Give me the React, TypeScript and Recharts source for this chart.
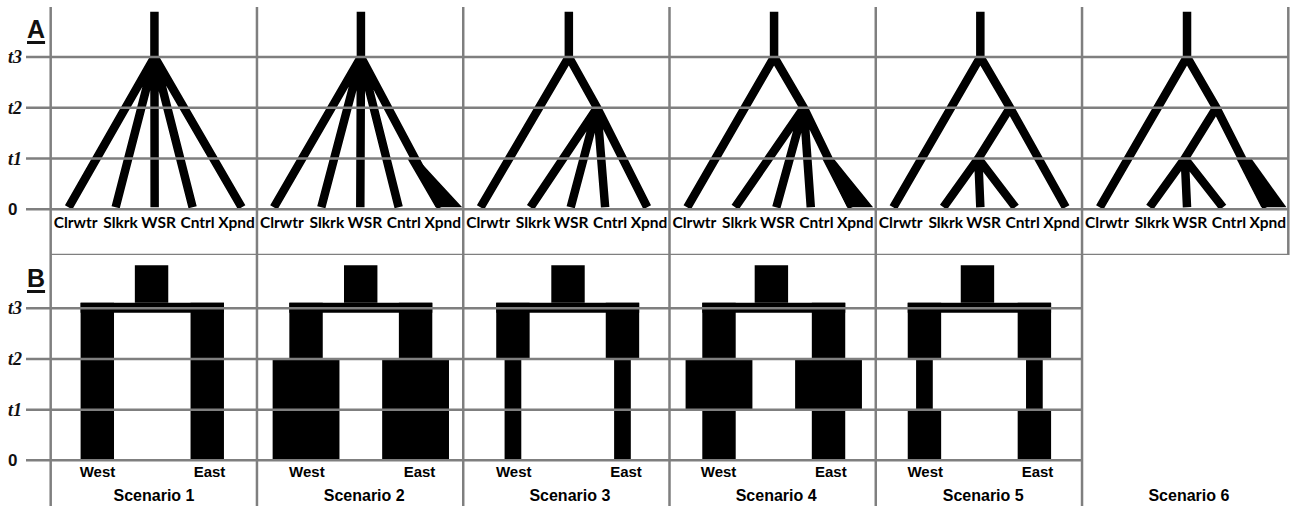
import React from 'react';
import { ComposedChart, Line, Area, XAxis, YAxis, ReferenceLine, ReferenceArea, Scatter } from 'recharts';

// ---------- shared ----------
const PANEL = 100; // each scenario panel = 100 x-units
const X_DOMAIN: [number, number] = [-11.97, 600];
const TOP_T_DOMAIN: [number, number] = [-0.9, 3.985];
const BOT_T_DOMAIN: [number, number] = [-0.9, 4.05];
const Y_TICKS = [0, 1, 2, 3];
const Y_TICK_LABELS = ['0', 't1', 't2', 't3'];
const SCENARIOS = ['Scenario 1', 'Scenario 2', 'Scenario 3', 'Scenario 4', 'Scenario 5', 'Scenario 6'];
const SCENARIO_LABEL_X = [50.1, 52.0, 51.7, 51.7, 52.1, 51.8];

// ---------- panel A : trees ----------
const TAXA = ['Clrwtr', 'Slkrk', 'WSR', 'Cntrl', 'Xpnd'];
const TAXON_LABEL_X = [12.1, 33.9, 52.3, 71.2, 90.1];
const STEM_TOP = 3.89;
const LEAF_T = 0.04;
const ROOT_X = [50.3, 50.4, 51.2, 50.7, 50.7, 50.9];
const NODE_T2_X = [null, null, 64.9, 65.1, 65.1, 65.1];
const NODE_T1_X = [null, null, null, null, 49.7, 49.8];
const LEAF_X = [
  [8.7, 31.5, 50.4, 68.8, 92.6],
  [8.2, 31.2, 50.1, 68.7, 89.2],
  [8.4, 32.6, 52.1, 68.8, 89.2],
  [8.6, 31.8, 51.8, 68.5, 88.5],
  [8.5, 32.8, 50.7, 67.7, 92.1],
  [8.6, 32.8, 50.9, 68.3, 89.5],
];
const LEAF_PARENT = [
  ['r', 'r', 'r', 'r', 'r'],
  ['r', 'r', 'r', 'r', 'r'],
  ['r', 'n2', 'n2', 'n2', 'n2'],
  ['r', 'n2', 'n2', 'n2', 'n2'],
  ['r', 'n1', 'n1', 'n1', 'n2'],
  ['r', 'n1', 'n1', 'n1', 'n2'],
];
// expanding Xpnd lineage since t1: [top-left, top-right, bottom-left, bottom-right]
const TAPER: (number[] | null)[] = [null, [72.9, 77.7, 86.6, 99.5], null, [74.0, 79.6, 86.1, 98.7], null, [74.8, 82.1, 86.9, 99.1]];

// ---------- panel B : population widths ----------
const B_ROOT_X = [48.9, 50.3, 50.8, 49.4, 49.3];
const B_WEST_X = [22.6, 23.8, 24.1, 24.0, 23.6];
const B_EAST_X = [75.9, 76.9, 77.2, 77.1, 76.9];
const B_BASE_W = 16.2;
const B_WIDTH_MULT = [
  [1, 1, 1],
  [1, 2, 2],
  [1, 0.5, 0.5],
  [1, 2, 1],
  [1, 0.5, 1],
];
const B_ROOT_TOP = 3.85;
const B_CONNECT_TOP = 3.106;
const B_CONNECT_BOT = 2.91;
const B_EPOCH_BOUNDS = [B_CONNECT_TOP, 2, 1, 0];
const WEST_LABEL_X = [22.7, 24.2, 24.5, 23.8, 24.0];
const EAST_LABEL_X = [77.0, 78.8, 78.9, 78.2, 78.4];
const POP_NAMES = ['West', 'East'];

const GRID = '#7f7f7f';
const GRID_W = 2.5;
const TAXON_T = -0.25;
const POP_LABEL_T = -0.22;
const SCEN_LABEL_T = -0.7;

// ---------- build series ----------
function treeData(k: number) {
  const base = k * PANEL;
  const pts: { x: number; y: number | null }[] = [];
  LEAF_X[k].forEach((lx, i) => {
    const p = LEAF_PARENT[k][i];
    pts.push({ x: base + ROOT_X[k], y: STEM_TOP });
    pts.push({ x: base + ROOT_X[k], y: 3 });
    if (p === 'n2' || p === 'n1') pts.push({ x: base + (NODE_T2_X[k] as number), y: 2 });
    if (p === 'n1') pts.push({ x: base + (NODE_T1_X[k] as number), y: 1 });
    pts.push({ x: base + lx, y: LEAF_T });
    pts.push({ x: base + lx, y: null });
  });
  return pts;
}

function taperData(k: number, c: number[]) {
  const base = k * PANEL;
  const [tl, tr, bl, br] = c;
  const low = (x: number) => (x >= bl ? LEAF_T : 1 - ((x - tl) / (bl - tl)) * (1 - LEAF_T));
  const high = (x: number) => (x <= tr ? 1 : 1 - ((x - tr) / (br - tr)) * (1 - LEAF_T));
  return [tl, tr, bl, br].map((x) => ({ x: base + x, y: [low(x), high(x)] }));
}

const taxonLabels = SCENARIOS.flatMap((_, k) =>
  TAXA.map((name, i) => ({ x: k * PANEL + TAXON_LABEL_X[i], y: TAXON_T, label: name }))
);
const popLabels = B_ROOT_X.flatMap((_, k) => [
  { x: k * PANEL + WEST_LABEL_X[k], y: POP_LABEL_T, label: POP_NAMES[0] },
  { x: k * PANEL + EAST_LABEL_X[k], y: POP_LABEL_T, label: POP_NAMES[1] },
]);
const scenarioLabels = SCENARIOS.map((s, k) => ({ x: k * PANEL + SCENARIO_LABEL_X[k], y: SCEN_LABEL_T, label: s }));

type Rect = { x1: number; x2: number; y1: number; y2: number };
function popRects(k: number): Rect[] {
  const base = k * PANEL;
  const w = B_BASE_W;
  const rects: Rect[] = [];
  rects.push({ x1: base + B_ROOT_X[k] - w / 2, x2: base + B_ROOT_X[k] + w / 2, y1: B_CONNECT_TOP, y2: B_ROOT_TOP });
  rects.push({ x1: base + B_WEST_X[k] - w / 2, x2: base + B_EAST_X[k] + w / 2, y1: B_CONNECT_BOT, y2: B_CONNECT_TOP });
  B_WIDTH_MULT[k].forEach((m, e) => {
    const hw = (w * m) / 2;
    const y2 = B_EPOCH_BOUNDS[e];
    const y1 = B_EPOCH_BOUNDS[e + 1];
    rects.push({ x1: base + B_WEST_X[k] - hw, x2: base + B_WEST_X[k] + hw, y1, y2 });
    rects.push({ x1: base + B_EAST_X[k] - hw, x2: base + B_EAST_X[k] + hw, y1, y2 });
  });
  return rects;
}

// ---------- renderers ----------
const YTick = (props: any) => {
  const v = props.payload?.value;
  const idx = Y_TICKS.indexOf(v);
  const lab = Y_TICK_LABELS[idx];
  if (v === 0) {
    return (
      <text x={8} y={props.y} dominantBaseline="central" textAnchor="start" fontFamily="'Liberation Sans', Arial, sans-serif" fontWeight={700} fontSize={17} fill="#111">
        {lab}
      </text>
    );
  }
  return (
    <text x={8} y={props.y} dominantBaseline="central" textAnchor="start" fontFamily="'Liberation Serif', 'Times New Roman', serif" fontStyle="italic" fontWeight={700} fontSize={18} fill="#111">
      {lab}
    </text>
  );
};

const makeTextShape = (family: string, size: number) => (props: any) => (
  <text x={props.cx} y={props.cy} textAnchor="middle" dominantBaseline="central" fontFamily={family} fontWeight={700} fontSize={size} fill="#000">
    {props.payload.label}
  </text>
);
const TaxonShape = makeTextShape("Lato, 'Open Sans', sans-serif", 15.5);
const PopShape = makeTextShape("'Liberation Sans', Arial, sans-serif", 15);
const ScenShape = makeTextShape("'Liberation Sans', Arial, sans-serif", 16);

const chartMargin = { top: 0, right: 2.7, bottom: 0, left: 0 };

export default function App() {
  return (
    <div style={{ position: 'absolute', left: 0, top: 0, width: 1291, height: 506, background: '#fff', overflow: 'hidden' }}>
      <div style={{ position: 'absolute', left: 0, top: 7 }}>
        <ComposedChart width={1291} height={248} margin={chartMargin}>
          <XAxis type="number" dataKey="x" domain={X_DOMAIN} hide allowDataOverflow />
          <YAxis type="number" dataKey="y" domain={TOP_T_DOMAIN} width={26} ticks={Y_TICKS} tick={YTick} axisLine={false} tickLine={false} allowDataOverflow interval={0} />
          {SCENARIOS.map((_, k) => (
            <Line key={'t' + k} data={treeData(k)} dataKey="y" stroke="#000" strokeWidth={8.5} strokeLinejoin="miter" strokeLinecap="butt" dot={false} activeDot={false} connectNulls={false} isAnimationActive={false} />
          ))}
          {TAPER.map((c, k) =>
            c ? <Area key={'a' + k} data={taperData(k, c)} dataKey="y" type="linear" fill="#000" fillOpacity={1} stroke="none" isAnimationActive={false} /> : null
          )}
          <Scatter data={taxonLabels} dataKey="y" shape={TaxonShape} isAnimationActive={false} />
          {Y_TICKS.map((t) => (
            <ReferenceLine key={'h' + t} y={t} stroke={GRID} strokeWidth={GRID_W} />
          ))}
          <ReferenceLine segment={[{ x: 0, y: TOP_T_DOMAIN[0] }, { x: 6 * PANEL, y: TOP_T_DOMAIN[0] }]} stroke={GRID} strokeWidth={GRID_W} ifOverflow="visible" />
          {[0, 1, 2, 3, 4, 5, 6].map((k) => (
            <ReferenceLine key={'v' + k} x={k * PANEL} stroke={GRID} strokeWidth={GRID_W} ifOverflow="visible" />
          ))}
        </ComposedChart>
      </div>
      <div style={{ position: 'absolute', left: 0, top: 255 }}>
        <ComposedChart width={1291} height={251} margin={chartMargin}>
          <XAxis type="number" dataKey="x" domain={X_DOMAIN} hide allowDataOverflow />
          <YAxis type="number" dataKey="y" domain={BOT_T_DOMAIN} width={26} ticks={Y_TICKS} tick={YTick} axisLine={false} tickLine={false} allowDataOverflow interval={0} />
          {B_ROOT_X.flatMap((_, k) =>
            popRects(k).map((r, i) => (
              <ReferenceArea key={'r' + k + '-' + i} x1={r.x1} x2={r.x2} y1={r.y1} y2={r.y2} fill="#000" fillOpacity={1} stroke="none" ifOverflow="visible" />
            ))
          )}
          <Scatter data={popLabels} dataKey="y" shape={PopShape} isAnimationActive={false} />
          <Scatter data={scenarioLabels} dataKey="y" shape={ScenShape} isAnimationActive={false} />
          {Y_TICKS.map((t) => (
            <ReferenceLine key={'bh' + t} segment={[{ x: X_DOMAIN[0], y: t }, { x: 5 * PANEL, y: t }]} stroke={GRID} strokeWidth={GRID_W} ifOverflow="visible" />
          ))}
          {[0, 1, 2, 3, 4, 5].map((k) => (
            <ReferenceLine key={'bv' + k} x={k * PANEL} stroke={GRID} strokeWidth={GRID_W} ifOverflow="visible" />
          ))}
        </ComposedChart>
      </div>
      <div style={{ position: 'absolute', left: 27, top: 16.8, fontFamily: "'Liberation Sans', Arial, sans-serif", fontWeight: 700, fontSize: 25, lineHeight: '25px', textDecoration: 'underline', textDecorationThickness: '3px', textUnderlineOffset: '3px', color: '#111' }}>A</div>
      <div style={{ position: 'absolute', left: 27, top: 265.8, fontFamily: "'Liberation Sans', Arial, sans-serif", fontWeight: 700, fontSize: 25, lineHeight: '25px', textDecoration: 'underline', textDecorationThickness: '3px', textUnderlineOffset: '3px', color: '#111' }}>B</div>
    </div>
  );
}
